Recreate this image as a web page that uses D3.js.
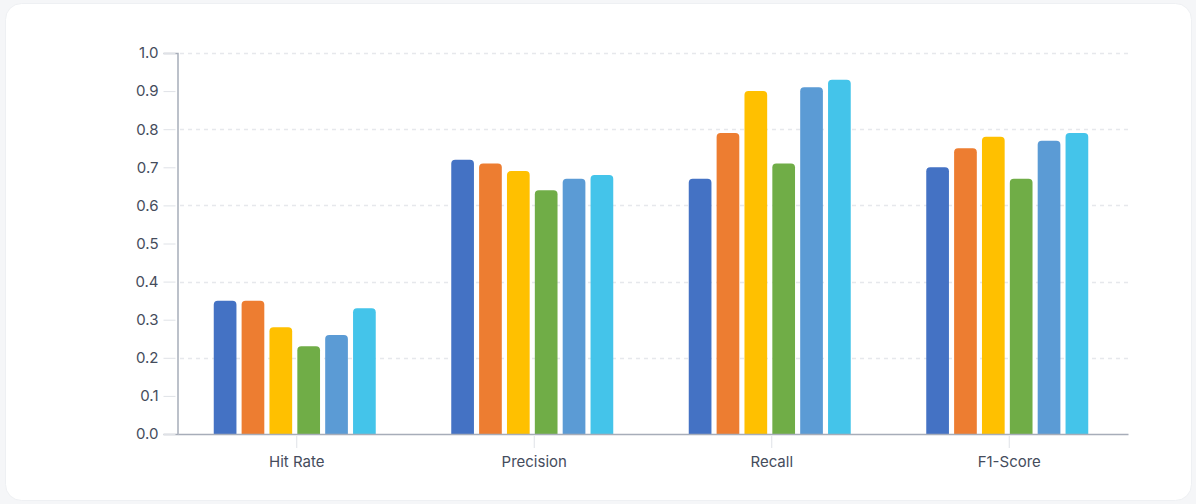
<!DOCTYPE html>
<html>
<head>
<meta charset="utf-8">
<script src="https://cdn.jsdelivr.net/npm/d3@7"></script>
<style>
  html, body { margin: 0; padding: 0; background: #f5f6f8; }
  svg { display: block; font-family: Inter, "Noto Sans", sans-serif; }
</style>
</head>
<body>
<svg id="chart"></svg>
<script>
const categories = ['Hit Rate', 'Precision', 'Recall', 'F1-Score'];
const seriesNames = ['s1', 's2', 's3', 's4', 's5', 's6'];
const hitRate = [0.35, 0.35, 0.28, 0.23, 0.26, 0.33];
const precision = [0.72, 0.71, 0.69, 0.64, 0.67, 0.68];
const recall = [0.67, 0.79, 0.90, 0.71, 0.91, 0.93];
const f1Score = [0.70, 0.75, 0.78, 0.67, 0.77, 0.79];
const colors = ['#4472c4', '#ed7d31', '#ffc000', '#70ad47', '#5b9bd5', '#44c4ea'];
const yTicks = [0, 0.1, 0.2, 0.3, 0.4, 0.5, 0.6, 0.7, 0.8, 0.9, 1.0];

const allValues = [hitRate, precision, recall, f1Score];

let width = 1196, height = 504;
let margin = { top: 53, right: 68, bottom: 70, left: 178 };

let svg = d3.select('#chart')
  .attr('width', width)
  .attr('height', height);

// card
svg.append('rect')
  .attr('x', 5.5)
  .attr('y', 3.5)
  .attr('width', 1186)
  .attr('height', 497)
  .attr('rx', 16)
  .attr('fill', '#fff')
  .attr('stroke', '#eef0f3');

let x0 = d3.scaleBand()
  .domain(categories)
  .range([margin.left, width - margin.right]);

let x1 = d3.scaleBand()
  .domain(seriesNames)
  .range([-83, 79])
  .paddingInner(5 / 27);

let y = d3.scaleLinear()
  .domain([0, 1])
  .range([height - margin.bottom, margin.top]);

// dashed grid
svg.append('g')
  .selectAll('line')
  .data([0.2, 0.4, 0.6, 0.8, 1.0])
  .enter()
  .append('line')
  .attr('x1', margin.left + 2)
  .attr('x2', width - margin.right)
  .attr('y1', d => Math.round(y(d)) + 0.5)
  .attr('y2', d => Math.round(y(d)) + 0.5)
  .attr('stroke', '#e6e8ec')
  .attr('stroke-width', 1.5)
  .attr('stroke-dasharray', '4 4');

// y axis
let yAxis = svg.append('g')
  .attr('transform', `translate(${margin.left - 0.5},0)`)
  .call(d3.axisLeft(y).tickValues(yTicks).tickFormat(d3.format('.1f')).tickSize(14).tickPadding(5));
yAxis.select('.domain').attr('stroke', '#a7adb9').attr('stroke-width', 1.5);
yAxis.selectAll('.tick line').attr('stroke', '#dfe2e7').attr('x2', -2).attr('x1', -14);
yAxis.selectAll('.tick text').attr('fill', '#454c5c').attr('font-size', 15).attr('font-family', 'Inter, sans-serif');

// bars
let roundTop = (x, yv, w, h, r) => {
  r = Math.min(r, h);
  return `M${x},${yv + h}V${yv + r}Q${x},${yv} ${x + r},${yv}H${x + w - r}Q${x + w},${yv} ${x + w},${yv + r}V${yv + h}Z`;
};

let groups = svg.selectAll('.group')
  .data(categories)
  .enter()
  .append('g')
  .attr('class', 'group')
  .attr('transform', d => `translate(${x0(d) + x0.bandwidth() / 2},0)`);

groups.selectAll('path')
  .data((d, i) => allValues[i].map((v, j) => ({ key: seriesNames[j], value: v, idx: j })))
  .enter()
  .append('path')
  .attr('d', d => roundTop(x1(d.key), y(d.value), x1.bandwidth(), y(0) - y(d.value), 4))
  .attr('fill', d => colors[d.idx]);

// x axis
let xAxis = svg.append('g')
  .attr('transform', `translate(0,${y(0)})`)
  .call(d3.axisBottom(x0).tickSize(14).tickPadding(8).tickSizeOuter(0));
xAxis.select('.domain').attr('stroke', '#a7adb9').attr('stroke-width', 1.5);
xAxis.selectAll('.tick line').attr('stroke', '#dfe2e7').attr('y1', 2);
xAxis.selectAll('.tick text').attr('fill', '#454c5c').attr('font-size', 15).attr('font-family', 'Inter, sans-serif');
</script>
</body>
</html>
